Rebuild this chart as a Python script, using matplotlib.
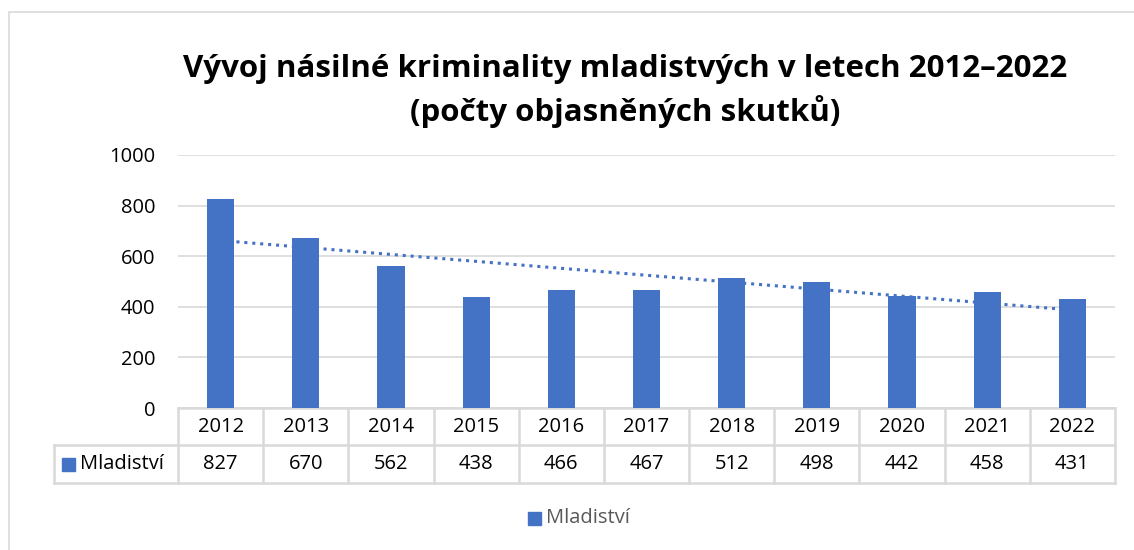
import numpy as np
import matplotlib.pyplot as plt
from matplotlib.transforms import blended_transform_factory
from matplotlib.patches import Rectangle

years = ["2012", "2013", "2014", "2015", "2016", "2017", "2018", "2019", "2020", "2021", "2022"]
values = [827, 670, 562, 438, 466, 467, 512, 498, 442, 458, 431]
series_name = "Mladiství"
title = "Vývoj násilné kriminality mladistvých v letech 2012–2022\n(počty objasněných skutků)"

BLUE = "#4472C4"
GRID = "#d9d9d9"
FONT = "Open Sans"
FS = 14.5

W, H = 1134, 550
fig = plt.figure(figsize=(W / 100, H / 100), dpi=100)

# plot area in pixels: x 178..1115, y 155..408 (from top)
ax = fig.add_axes([178 / W, 1 - 408 / H, (1115 - 178) / W, (408 - 155) / H])

x = np.arange(len(years))
ax.bar(x, values, width=0.32, color=BLUE, zorder=3)

# linear trend line
k, q = np.polyfit(x, values, 1)
ax.plot(x, k * x + q, color=BLUE, lw=2.2, linestyle=(0, (1, 1.6)), zorder=4)

ax.set_xlim(-0.5, len(years) - 0.5)
ax.set_ylim(0, 1000)
ax.set_yticks(range(0, 1001, 200))
ax.yaxis.grid(True, color=GRID, lw=1.2, zorder=0)
ax.set_xticks([])
for s in ax.spines.values():
    s.set_visible(False)
ax.tick_params(axis="y", length=0, pad=16.5, labelsize=FS)
for lab in ax.get_yticklabels():
    lab.set_fontfamily(FONT)

# data table under the chart
tr = blended_transform_factory(ax.transData, ax.transAxes)
h_ax = 408 - 155
r1 = -37 / h_ax
r2 = -75 / h_ax
left = -0.5 - 124 / ((1115 - 178) / len(years))
right = len(years) - 0.5
lc = dict(color=GRID, lw=1.8, transform=tr, clip_on=False)
ax.plot([-0.5, right], [0, 0], **lc)
ax.plot([left, right], [r1, r1], **lc)
ax.plot([left, right], [r2, r2], **lc)
ax.plot([left, left], [r1, r2], **lc)
for i in range(len(years) + 1):
    ax.plot([i - 0.5, i - 0.5], [0, r2], **lc)
for i, (yr, v) in enumerate(zip(years, values)):
    ax.text(i, r1 / 2, yr, ha="center", va="center", fontsize=FS, family=FONT, transform=tr)
    ax.text(i, (r1 + r2) / 2, str(v), ha="center", va="center", fontsize=FS, family=FONT, transform=tr)

fig.patches.append(Rectangle((62 / W, 1 - 471 / H), 13 / W, 13 / H, color=BLUE,
                             transform=fig.transFigure))
fig.text(80 / W, 1 - 464 / H, series_name, ha="left", va="center", fontsize=FS, family=FONT)

# legend
fig.patches.append(Rectangle((528 / W, 1 - 525 / H), 13 / W, 13 / H, color=BLUE,
                             transform=fig.transFigure))
fig.text(546 / W, 1 - 518 / H, series_name, ha="left", va="center", fontsize=FS,
         family=FONT, color="#595959")

fig.text(625 / W, 1 - 91 / H, title, ha="center", va="center", fontsize=22.5,
         fontweight="bold", family=FONT, linespacing=1.45)

# chart frame
fig.patches.append(Rectangle((9 / W, -0.05), 1.1, 1 - 12 / H + 0.05, fill=False,
                             edgecolor="#d9d9d9", lw=1.2, transform=fig.transFigure))

fig.savefig("out.png", dpi=100)
